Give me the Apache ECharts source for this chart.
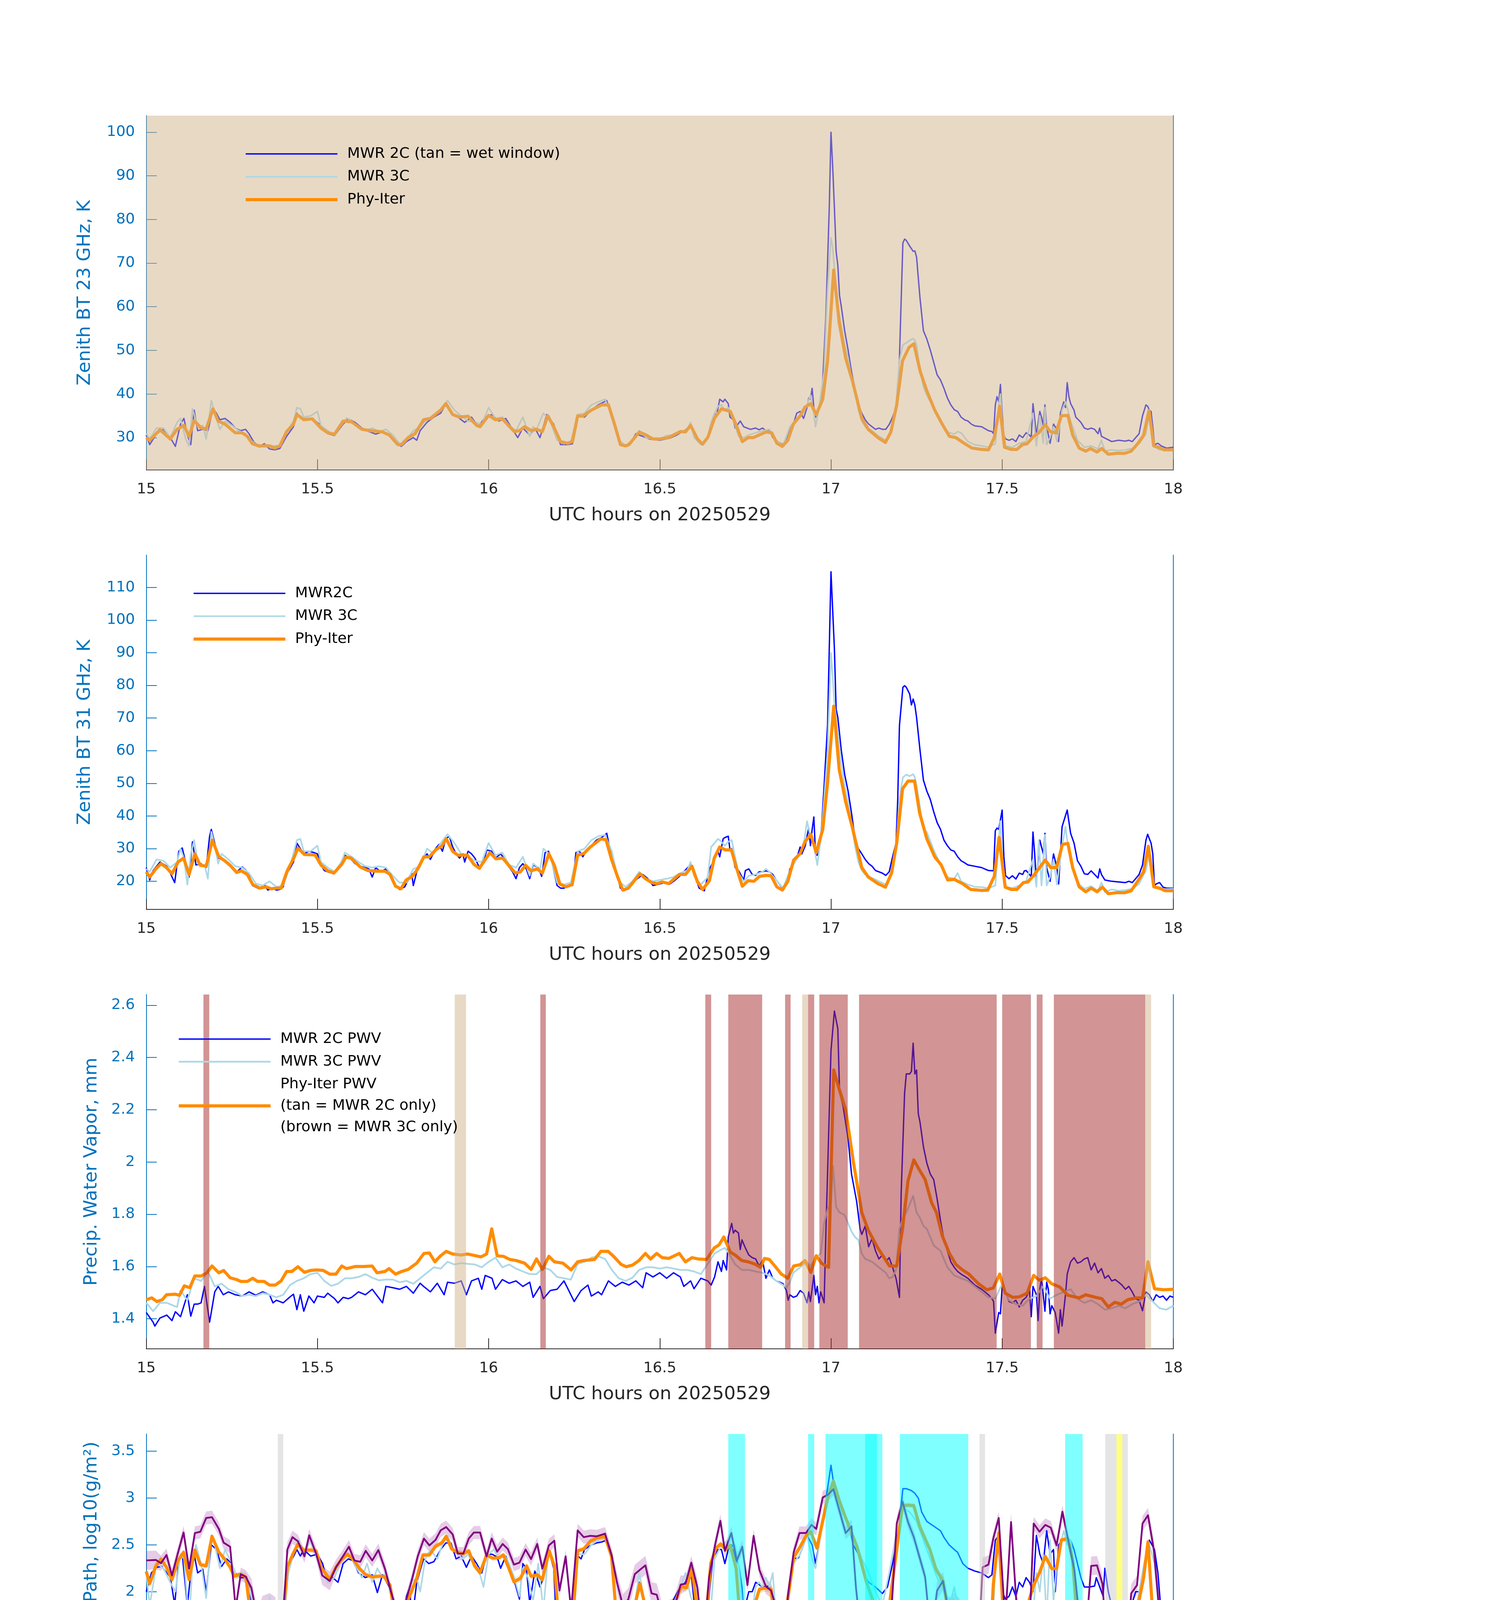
<!DOCTYPE html>
<html>
<head>
<meta charset="utf-8">
<script src="https://cdn.jsdelivr.net/npm/echarts@6/dist/echarts.min.js"></script>
<style>html,body{margin:0;padding:0;background:#fff}#c{width:3825px;height:6000px}</style>
</head>
<body>
<div id="c"></div>
<script>
// ---------------- DATA ----------------
// Panel 1: Zenith BT 23 GHz (K)  [UTC hour, value]
const bt23C2 = [[15.0,30.6],[15.01,28.4],[15.03,30.9],[15.05,31.9],[15.07,30],[15.085,28],[15.1,33.1],[15.11,34.4],[15.12,30.6],[15.13,28.4],[15.14,36.3],[15.15,31.6],[15.165,31.9],[15.18,31.6],[15.195,36.6],[15.205,35.6],[15.215,34.1],[15.23,34.4],[15.245,33.5],[15.26,32.2],[15.275,31.6],[15.29,31.9],[15.3,30.9],[15.315,28.9],[15.33,28],[15.345,28.6],[15.36,27.4],[15.375,27.2],[15.39,27.5],[15.41,30.3],[15.43,32.5],[15.44,35.6],[15.455,34.3],[15.47,34.4],[15.49,34.1],[15.51,32.8],[15.53,30.9],[15.55,30.5],[15.575,33.1],[15.59,34.3],[15.61,33.5],[15.63,32.2],[15.65,31.4],[15.67,30.8],[15.69,31.3],[15.71,30.5],[15.73,28.6],[15.745,28],[15.76,29.1],[15.78,30],[15.79,29.4],[15.8,31.6],[15.82,33.5],[15.84,34.7],[15.86,35.6],[15.875,37.7],[15.89,35.6],[15.91,34.7],[15.93,33.5],[15.95,34.7],[15.97,32.5],[15.99,34.7],[16.01,35.3],[16.03,33.8],[16.05,34.4],[16.07,31.9],[16.085,30],[16.1,32.2],[16.12,30.6],[16.135,32.2],[16.15,30],[16.17,35.3],[16.19,33.1],[16.21,28.4],[16.23,28.4],[16.245,28.6],[16.26,35],[16.28,34.7],[16.3,36.3],[16.32,37.5],[16.345,38.5],[16.36,34.4],[16.38,29.4],[16.395,28.1],[16.41,28.2],[16.43,30.9],[16.45,30.3],[16.47,29.7],[16.5,29.4],[16.53,29.9],[16.55,30.6],[16.57,31.6],[16.59,32.5],[16.61,29.7],[16.625,28.4],[16.64,30],[16.65,33.5],[16.66,35.6],[16.665,34.7],[16.675,38.8],[16.685,38.2],[16.69,38.8],[16.7,37.8],[16.705,34.7],[16.715,34.1],[16.72,32.2],[16.735,33.8],[16.745,32.5],[16.755,32.2],[16.765,31.9],[16.78,32.2],[16.79,31.8],[16.8,32.2],[16.81,31.6],[16.82,31.8],[16.83,30],[16.845,29.1],[16.86,28.4],[16.87,29.7],[16.88,32.2],[16.89,33.1],[16.9,35.6],[16.91,36],[16.92,34.4],[16.93,36.9],[16.935,39.1],[16.94,38.8],[16.945,41.3],[16.95,36.9],[16.955,34.7],[16.965,36.6],[16.975,41.6],[16.985,57.6],[16.995,82.7],[17.0,100],[17.005,92.1],[17.01,82.7],[17.015,72.7],[17.02,69.5],[17.025,62.6],[17.03,60.1],[17.04,54.5],[17.05,50.1],[17.06,45.1],[17.07,41.3],[17.08,37.5],[17.09,35.6],[17.1,34.1],[17.11,33.1],[17.12,32.5],[17.13,31.9],[17.14,32.2],[17.15,31.9],[17.16,31.9],[17.17,33],[17.18,34.7],[17.19,36.9],[17.195,38.8],[17.2,48.2],[17.21,74.6],[17.215,75.5],[17.22,75.2],[17.23,73.9],[17.24,72.7],[17.245,72.8],[17.25,71.4],[17.26,62],[17.27,54.5],[17.28,52.6],[17.29,50.1],[17.3,47.3],[17.31,44.4],[17.32,43.2],[17.33,41.3],[17.34,39.1],[17.35,37.5],[17.36,36.4],[17.37,36],[17.38,34.7],[17.39,34.1],[17.4,33.8],[17.41,33.1],[17.42,32.7],[17.44,32.5],[17.46,31.6],[17.47,31.4],[17.475,30.9],[17.48,37.5],[17.485,39.4],[17.49,38.2],[17.495,42.2],[17.5,35.6],[17.505,30.6],[17.51,29.7],[17.52,29.4],[17.53,29.7],[17.54,29.1],[17.55,30.6],[17.56,30],[17.57,31.1],[17.58,30.6],[17.585,30],[17.59,37.8],[17.595,34.4],[17.6,30.6],[17.61,36],[17.615,34.7],[17.62,32.8],[17.625,37.5],[17.63,32.5],[17.64,28.7],[17.65,33.1],[17.66,31.9],[17.665,29.1],[17.67,35.6],[17.68,38.2],[17.685,36.9],[17.69,42.6],[17.695,39.4],[17.7,37.8],[17.71,36.3],[17.715,34.7],[17.73,33.5],[17.74,32.2],[17.75,31.9],[17.76,32.2],[17.77,31.9],[17.78,30.9],[17.785,32.2],[17.79,30.3],[17.8,29.9],[17.81,29.5],[17.82,29.1],[17.84,29.4],[17.86,29.2],[17.87,29.4],[17.88,29.1],[17.89,30],[17.9,30.9],[17.91,35],[17.92,37.5],[17.925,37.2],[17.93,36.3],[17.935,36],[17.94,32.5],[17.945,28.4],[17.955,28.7],[17.965,28.1],[17.98,27.6],[18.0,27.8]];
const bt23C3 = [[15.0,30.9],[15.01,29.7],[15.03,32.2],[15.05,32.2],[15.07,30],[15.09,33.5],[15.1,34.4],[15.115,29.7],[15.125,28.1],[15.135,36.6],[15.15,32.5],[15.165,32.8],[15.175,29.7],[15.19,38.5],[15.2,35.6],[15.215,31.9],[15.23,33.8],[15.25,32.8],[15.27,31.6],[15.29,30.9],[15.31,29.1],[15.33,27.8],[15.35,28.4],[15.37,28.1],[15.39,28.2],[15.41,31.3],[15.43,33.8],[15.44,36.9],[15.45,36.6],[15.46,34.7],[15.48,35],[15.5,36],[15.51,32.8],[15.53,31.6],[15.55,30.6],[15.57,32.8],[15.585,34.5],[15.6,33.8],[15.62,32.2],[15.64,31.6],[15.66,32.2],[15.68,31.4],[15.7,31.9],[15.72,30.6],[15.74,28.6],[15.755,28.9],[15.77,30.6],[15.78,31.6],[15.8,32.5],[15.82,34.1],[15.84,35],[15.86,36.6],[15.88,38.5],[15.9,36.3],[15.92,35],[15.94,33.8],[15.96,33.5],[15.98,33.1],[16.0,36.9],[16.02,34.4],[16.04,34.7],[16.06,32.8],[16.08,31.6],[16.1,34.7],[16.12,30.3],[16.13,32.5],[16.14,31.9],[16.16,35.6],[16.18,33.8],[16.2,29.4],[16.22,28.6],[16.24,29.1],[16.26,35.3],[16.28,35.6],[16.3,37.5],[16.32,38.2],[16.34,38.8],[16.36,35],[16.38,29.4],[16.4,28.2],[16.42,29.4],[16.44,31.6],[16.46,30],[16.48,29.7],[16.5,29.7],[16.52,30.5],[16.54,30.6],[16.56,31.3],[16.58,31.9],[16.59,33.5],[16.6,30],[16.62,28.4],[16.64,30.3],[16.65,33.5],[16.66,35.6],[16.67,37.2],[16.68,37.5],[16.69,36.3],[16.7,36.9],[16.71,35.3],[16.72,32.8],[16.73,30.3],[16.745,30],[16.76,30.6],[16.78,31.1],[16.8,31.6],[16.82,31.9],[16.84,29.4],[16.86,28.2],[16.88,32.5],[16.9,34.4],[16.92,35.6],[16.93,37.5],[16.94,39.7],[16.95,35.6],[16.955,32.5],[16.965,36.9],[16.98,45.1],[16.99,63.9],[17.0,75.8],[17.005,73.6],[17.01,68.9],[17.02,60.1],[17.03,55.7],[17.04,51.3],[17.05,48.2],[17.06,43.8],[17.07,40.7],[17.08,36.3],[17.09,33.8],[17.1,32.5],[17.12,31.6],[17.14,30.3],[17.16,29.4],[17.17,30.3],[17.18,33.1],[17.19,37.5],[17.2,47.6],[17.21,51.3],[17.22,51.7],[17.23,52.3],[17.24,52.7],[17.245,52.3],[17.25,51.3],[17.26,45.7],[17.27,41.6],[17.28,39.7],[17.3,36.9],[17.32,34.1],[17.34,31.3],[17.36,30.8],[17.37,31.4],[17.38,31.1],[17.4,29.1],[17.42,28.4],[17.44,28.1],[17.46,27.8],[17.48,28.6],[17.49,37.5],[17.495,40],[17.5,34.1],[17.51,28.1],[17.53,27.8],[17.55,28.7],[17.57,29.1],[17.59,35.6],[17.6,28.1],[17.61,35],[17.62,28.7],[17.625,36.9],[17.63,28.4],[17.64,30],[17.65,32.5],[17.66,29.1],[17.675,36.3],[17.685,38.2],[17.69,36.9],[17.7,33.8],[17.72,29.4],[17.74,27.8],[17.76,28.1],[17.78,27.4],[17.79,29.4],[17.8,26.9],[17.82,27.2],[17.84,27],[17.86,27.2],[17.88,27.5],[17.9,28.6],[17.92,30.9],[17.93,35.6],[17.94,28.1],[17.96,27.2],[18.0,27.2]];
const bt23Phy = [[15.0,30],[15.01,29.4],[15.04,31.8],[15.07,29.7],[15.09,31.9],[15.11,32.8],[15.125,30.3],[15.14,33.9],[15.16,32.2],[15.175,32],[15.195,36.6],[15.21,33.8],[15.23,33.1],[15.26,31.1],[15.28,31.1],[15.295,30.3],[15.31,28.6],[15.33,28.1],[15.36,28.1],[15.375,27.6],[15.39,28.1],[15.41,31.4],[15.43,33.1],[15.44,35.3],[15.46,34.1],[15.485,34.3],[15.51,32.2],[15.53,31.1],[15.55,30.8],[15.575,33.8],[15.6,33.6],[15.63,31.9],[15.655,31.6],[15.69,31.3],[15.71,30.6],[15.735,28.4],[15.745,28.4],[15.765,30],[15.785,30.9],[15.81,34.1],[15.83,34.4],[15.86,36.3],[15.875,37.8],[15.895,35.3],[15.915,34.7],[15.94,34.9],[15.965,32.8],[15.975,32.5],[16.0,35.1],[16.02,34.1],[16.04,34.3],[16.075,31.4],[16.09,31.6],[16.105,32.5],[16.125,31.6],[16.14,31.9],[16.157,31.4],[16.173,35],[16.19,32.5],[16.21,29.1],[16.23,28.7],[16.245,29.1],[16.26,35],[16.275,34.9],[16.3,36.3],[16.33,37.5],[16.35,37.5],[16.365,33.8],[16.385,28.4],[16.4,28.1],[16.41,28.4],[16.44,31.3],[16.46,30.6],[16.48,29.7],[16.5,29.7],[16.525,30],[16.56,31.4],[16.575,31.3],[16.59,32.8],[16.61,29.7],[16.625,28.5],[16.64,30],[16.66,34.5],[16.68,36.6],[16.706,36],[16.725,32.5],[16.741,29.1],[16.758,30],[16.773,30],[16.79,30.6],[16.81,31.3],[16.827,31.1],[16.842,28.7],[16.858,28],[16.874,29.4],[16.89,33.1],[16.91,35],[16.924,37],[16.941,37.8],[16.957,35.3],[16.976,38.8],[16.99,47.6],[17.008,68.4],[17.024,56.4],[17.043,48.2],[17.062,43.2],[17.09,34.4],[17.109,31.9],[17.137,30],[17.159,28.9],[17.175,31.3],[17.192,37.5],[17.209,47.6],[17.228,50.7],[17.242,51.5],[17.261,45.1],[17.28,40.7],[17.303,36.3],[17.327,32.8],[17.346,30.3],[17.365,30],[17.389,28.7],[17.412,27.6],[17.44,27.3],[17.46,27.2],[17.477,30],[17.493,37.2],[17.507,27.8],[17.526,27.3],[17.543,27.3],[17.559,28.4],[17.573,28.6],[17.592,30.3],[17.607,31.1],[17.626,33],[17.64,31.4],[17.657,31.1],[17.673,35],[17.692,35.1],[17.706,30.6],[17.725,27.6],[17.744,26.9],[17.758,27.5],[17.777,26.7],[17.791,27.5],[17.81,26.2],[17.834,26.4],[17.858,26.4],[17.877,26.9],[17.896,28.6],[17.913,30.5],[17.929,36.2],[17.943,28.1],[17.957,27.8],[17.973,27.2],[18.0,27.2]];

// Panel 2: Zenith BT 31 GHz (K)
const bt31C2 = [[15.0,24.2],[15.01,20.4],[15.02,23.3],[15.04,25.9],[15.06,24.6],[15.07,22.5],[15.083,19.6],[15.095,29.2],[15.105,30.2],[15.115,25.9],[15.125,21.3],[15.135,32.1],[15.145,25],[15.16,25.4],[15.175,24.2],[15.185,33.8],[15.19,35.9],[15.2,31.7],[15.21,27.1],[15.225,26.5],[15.24,25],[15.25,24.2],[15.265,22.9],[15.28,24.4],[15.29,23.5],[15.3,22.1],[15.31,18.7],[15.33,17.7],[15.345,19],[15.355,17.3],[15.37,17.9],[15.38,17.3],[15.39,17.5],[15.4,18.3],[15.41,22.1],[15.43,25.9],[15.44,31.7],[15.45,30],[15.46,28.4],[15.475,29.2],[15.49,28.8],[15.5,28.4],[15.51,25],[15.52,23.3],[15.535,22.7],[15.55,22.9],[15.565,25],[15.58,28],[15.595,27.1],[15.61,25.4],[15.625,24.6],[15.64,24.2],[15.65,23.8],[15.66,21.3],[15.67,24.2],[15.685,22.9],[15.7,23.8],[15.71,22.5],[15.725,19.2],[15.74,17.5],[15.755,18.3],[15.765,20.4],[15.775,22.5],[15.78,18.7],[15.79,22.9],[15.8,25],[15.81,27.1],[15.82,28.4],[15.83,26.7],[15.845,30],[15.855,31.3],[15.865,29.2],[15.875,33],[15.885,33.8],[15.895,30.5],[15.905,28.4],[15.915,27.1],[15.925,28.4],[15.93,25.9],[15.94,29.2],[15.95,28.4],[15.96,27.1],[15.975,23.8],[15.985,26.3],[15.995,29.6],[16.01,29.2],[16.02,27.1],[16.035,28.4],[16.045,27.1],[16.055,25],[16.07,22.9],[16.08,20.8],[16.09,24.2],[16.1,25.4],[16.11,23.8],[16.12,20.8],[16.13,25],[16.145,24.2],[16.155,21.5],[16.165,28.8],[16.175,29.2],[16.185,25.9],[16.2,18.7],[16.21,17.9],[16.22,17.9],[16.235,18.7],[16.245,18.7],[16.255,28.8],[16.265,29.2],[16.275,27.5],[16.29,30],[16.3,30.9],[16.315,32.6],[16.33,33.4],[16.345,34.7],[16.36,27.1],[16.375,22.1],[16.385,17.9],[16.395,17.1],[16.41,17.9],[16.42,19.6],[16.435,20.8],[16.45,22.1],[16.465,20.8],[16.48,18.7],[16.5,19.2],[16.515,19.6],[16.53,19.2],[16.545,20.4],[16.555,21.3],[16.57,22.9],[16.585,24.6],[16.59,25.4],[16.605,20.8],[16.615,17.9],[16.63,17.1],[16.645,23.8],[16.66,26.7],[16.67,29.2],[16.675,27.5],[16.685,33],[16.69,33.4],[16.7,33.8],[16.705,29.6],[16.71,30],[16.72,24.2],[16.73,23.3],[16.745,20.4],[16.75,23.3],[16.76,23.8],[16.77,22.1],[16.78,21.8],[16.79,22.9],[16.8,22.9],[16.81,23.2],[16.82,22.9],[16.83,22.1],[16.84,20.4],[16.86,17.7],[16.87,19.2],[16.88,23.8],[16.89,25.4],[16.9,27.1],[16.91,30.5],[16.915,28.4],[16.925,30.9],[16.93,33.8],[16.935,36.3],[16.94,30.9],[16.945,35.9],[16.95,39.7],[16.955,28],[16.96,28],[16.97,32.6],[16.98,49.3],[16.99,67.7],[17.0,114.8],[17.01,91.2],[17.015,72.7],[17.02,70.2],[17.03,60.2],[17.04,52.7],[17.05,47.6],[17.06,40.9],[17.07,33.4],[17.08,30],[17.09,28.4],[17.1,26.7],[17.11,25.4],[17.12,24.6],[17.13,23.3],[17.14,22.9],[17.15,22.5],[17.16,21.8],[17.17,22.9],[17.18,27.5],[17.19,31.7],[17.195,45.1],[17.2,67.7],[17.21,79.4],[17.215,79.9],[17.22,79.4],[17.23,77.3],[17.235,74],[17.24,75.8],[17.245,74],[17.25,70.2],[17.26,60.2],[17.27,51],[17.28,47.6],[17.29,45.1],[17.3,41.3],[17.31,38],[17.32,35.9],[17.33,32.6],[17.34,30.9],[17.35,29.6],[17.36,29.2],[17.37,27.5],[17.38,26.3],[17.39,25.7],[17.4,25],[17.42,24.6],[17.44,24.2],[17.46,23.3],[17.475,23.2],[17.48,35.5],[17.485,36.3],[17.49,35.9],[17.5,41.8],[17.505,27.5],[17.51,21.7],[17.52,20.8],[17.53,21.7],[17.54,20.7],[17.55,22.5],[17.56,22.1],[17.565,23.2],[17.57,23.3],[17.58,22.1],[17.585,21.3],[17.59,35.1],[17.595,28.4],[17.6,20],[17.61,32.6],[17.62,28.4],[17.625,34.7],[17.63,24.2],[17.64,20],[17.65,28.4],[17.66,24.2],[17.665,19.2],[17.675,36.7],[17.685,40.1],[17.69,41.8],[17.7,34.7],[17.71,31.7],[17.72,26.3],[17.73,24.6],[17.74,22.3],[17.75,22.1],[17.76,23.2],[17.77,22.1],[17.78,21],[17.785,23.8],[17.79,22.1],[17.8,20.4],[17.81,20.2],[17.82,20],[17.84,19.8],[17.86,19.6],[17.87,20],[17.88,19.6],[17.89,20.8],[17.9,22.1],[17.91,25],[17.92,32.6],[17.925,34.4],[17.93,33],[17.935,31.7],[17.94,28.4],[17.945,18.7],[17.95,19.2],[17.96,19.6],[17.97,18.2],[17.98,17.9],[18.0,17.9]];
const bt31C3 = [[15.0,23.8],[15.01,22.9],[15.03,26.7],[15.05,26.3],[15.07,24.2],[15.09,25.9],[15.1,30],[15.11,27.1],[15.12,19],[15.13,28.4],[15.14,32.6],[15.15,25.4],[15.17,25],[15.18,20.8],[15.19,35.1],[15.2,30.9],[15.21,25.4],[15.22,28.4],[15.24,26.7],[15.26,24.6],[15.28,24.2],[15.3,22.5],[15.32,19.3],[15.34,18.7],[15.36,20],[15.38,18.3],[15.4,18.7],[15.42,24.6],[15.44,32.6],[15.45,33],[15.46,29.2],[15.48,29.2],[15.5,30.9],[15.51,25.9],[15.53,24.2],[15.55,22.9],[15.57,25.9],[15.58,28.8],[15.6,27.5],[15.62,25.9],[15.64,24.6],[15.66,24.2],[15.68,24.6],[15.7,24.2],[15.72,21.7],[15.74,19.6],[15.76,19.6],[15.77,21.7],[15.78,23.8],[15.8,24.6],[15.82,30],[15.84,28.4],[15.86,31.7],[15.88,34.4],[15.9,31.7],[15.92,28.4],[15.94,27.5],[15.96,26.3],[15.98,25.9],[16.0,31.7],[16.02,28],[16.04,28.8],[16.06,25],[16.08,24.2],[16.1,27.5],[16.12,21.7],[16.13,25.4],[16.14,24.6],[16.15,23.3],[16.16,30],[16.18,28],[16.2,19.6],[16.22,19],[16.24,19.6],[16.26,29.2],[16.28,30],[16.3,32.6],[16.32,33.8],[16.34,34.2],[16.36,29.2],[16.38,20],[16.4,18.3],[16.42,20],[16.44,22.9],[16.46,20.8],[16.48,20],[16.5,20.4],[16.52,20.8],[16.54,21.3],[16.56,22.5],[16.58,23.3],[16.59,25.9],[16.6,21.7],[16.62,19],[16.64,21.3],[16.65,30.5],[16.66,31.7],[16.67,33],[16.68,32.1],[16.69,30.9],[16.7,32.1],[16.71,32.6],[16.72,27.5],[16.73,22.5],[16.745,20],[16.76,21.7],[16.78,22.1],[16.8,22.9],[16.81,23.8],[16.82,22.9],[16.84,20.4],[16.86,17.9],[16.88,23.3],[16.9,26.7],[16.92,30.9],[16.93,38.4],[16.94,33.8],[16.95,30.9],[16.96,25],[16.97,32.6],[16.98,45.1],[16.99,59.4],[17.0,89.9],[17.005,82.8],[17.01,74.4],[17.02,66],[17.03,56],[17.04,49.3],[17.05,44.3],[17.06,37.6],[17.07,30.9],[17.08,25.9],[17.09,23.3],[17.1,22.1],[17.12,21],[17.14,20],[17.16,19],[17.17,20.8],[17.18,24.2],[17.19,30],[17.2,45.1],[17.21,51.8],[17.22,52.7],[17.23,52.2],[17.24,52.8],[17.245,51.8],[17.25,49.3],[17.26,42.6],[17.27,35.9],[17.28,35.1],[17.3,29.6],[17.32,25],[17.34,21.3],[17.36,20.8],[17.37,22.5],[17.38,20],[17.4,19],[17.42,18.3],[17.44,18.2],[17.46,17.9],[17.48,18.7],[17.49,32.6],[17.495,38.4],[17.5,28.4],[17.51,18.3],[17.53,17.9],[17.55,18.7],[17.57,20],[17.59,26.7],[17.6,18.3],[17.607,32.6],[17.615,18.7],[17.625,34.2],[17.63,18.7],[17.64,21.3],[17.65,26.7],[17.66,19],[17.675,30.9],[17.685,36.7],[17.69,32.6],[17.7,25.9],[17.72,19.6],[17.74,17.7],[17.76,18.5],[17.78,17.1],[17.79,19.6],[17.8,16.7],[17.82,17.5],[17.84,17.1],[17.86,17.3],[17.88,17.7],[17.9,19.2],[17.92,23.3],[17.93,29.2],[17.94,18.7],[17.96,17.5],[18.0,17.7]];
const bt31Phy = [[15.0,22.9],[15.01,21.3],[15.028,23.8],[15.043,25.4],[15.059,24.2],[15.075,22.3],[15.093,25.9],[15.109,27.1],[15.125,22.1],[15.142,28.4],[15.158,24.9],[15.175,24.6],[15.193,32.6],[15.212,27.5],[15.229,26.3],[15.245,24.9],[15.264,22.7],[15.278,23.2],[15.295,22.1],[15.311,19],[15.332,17.9],[15.35,18.3],[15.365,17.7],[15.381,17.9],[15.394,17.9],[15.412,23.3],[15.431,27.1],[15.443,30.2],[15.462,28.2],[15.493,28.1],[15.511,24.9],[15.53,23.2],[15.548,22.5],[15.571,25.2],[15.583,27.4],[15.598,27.1],[15.625,24.4],[15.647,23.3],[15.672,23.1],[15.697,23.1],[15.712,22.1],[15.728,18.5],[15.744,17.7],[15.759,20.4],[15.777,21.5],[15.793,23.8],[15.811,27.5],[15.827,27.5],[15.845,29.6],[15.864,30.9],[15.876,33],[15.895,29.2],[15.91,28],[15.938,28],[15.957,25.2],[15.973,24],[16.004,28.8],[16.021,26.9],[16.041,27.1],[16.058,25],[16.078,22.5],[16.093,22.9],[16.108,24.9],[16.124,23.2],[16.142,23.8],[16.157,22.5],[16.176,28.4],[16.192,24.9],[16.208,19.2],[16.226,18.3],[16.244,19],[16.26,28],[16.278,28.5],[16.297,30.5],[16.328,33],[16.343,32.7],[16.359,26.7],[16.377,21.3],[16.392,17.3],[16.408,17.9],[16.442,22.3],[16.458,20.8],[16.476,19.6],[16.491,19.3],[16.507,19.8],[16.526,19.3],[16.557,22.1],[16.575,22.1],[16.594,24.6],[16.61,19.8],[16.625,17.5],[16.645,20.2],[16.659,27.1],[16.675,30.5],[16.692,29.6],[16.709,29.6],[16.725,23.8],[16.741,18.5],[16.758,20.2],[16.775,20],[16.791,21.5],[16.81,21.8],[16.825,21.7],[16.842,18.3],[16.858,17.3],[16.874,20],[16.891,26.5],[16.91,28.5],[16.924,32.1],[16.941,34.4],[16.957,28.8],[16.976,35.9],[16.99,50.1],[17.008,73.6],[17.024,54.3],[17.043,44.3],[17.062,36.7],[17.09,24.2],[17.109,21.3],[17.137,19.3],[17.159,18.2],[17.177,22.5],[17.192,31.7],[17.209,48.3],[17.225,50.7],[17.244,50.7],[17.259,40.9],[17.28,33],[17.303,27.5],[17.322,25],[17.341,20.4],[17.36,20.6],[17.384,19.3],[17.408,17.5],[17.441,17.2],[17.458,17.3],[17.477,21.5],[17.491,33.4],[17.509,18.2],[17.526,17.5],[17.543,17.5],[17.562,19.6],[17.575,19.8],[17.592,21.8],[17.626,26.5],[17.642,24.2],[17.659,24.2],[17.676,31.3],[17.692,31.6],[17.706,24.2],[17.725,18.3],[17.744,16.8],[17.76,17.9],[17.777,16.8],[17.793,18.2],[17.81,16.2],[17.834,16.5],[17.858,16.5],[17.877,17.1],[17.896,20],[17.913,22.9],[17.927,30.7],[17.943,18.3],[17.96,17.9],[17.976,17.1],[18.0,17.1]];

// Panel 3: Precipitable water vapor (mm)
const pwvC2 = [[15.0,1.424],[15.02,1.387],[15.025,1.372],[15.04,1.403],[15.06,1.414],[15.075,1.393],[15.085,1.427],[15.1,1.408],[15.12,1.492],[15.13,1.41],[15.14,1.456],[15.15,1.456],[15.16,1.461],[15.17,1.524],[15.185,1.387],[15.2,1.503],[15.21,1.524],[15.225,1.492],[15.24,1.503],[15.26,1.492],[15.28,1.487],[15.3,1.503],[15.32,1.49],[15.34,1.503],[15.36,1.492],[15.37,1.461],[15.38,1.471],[15.4,1.461],[15.42,1.484],[15.43,1.494],[15.44,1.435],[15.45,1.492],[15.46,1.429],[15.475,1.487],[15.49,1.461],[15.5,1.487],[15.52,1.482],[15.53,1.498],[15.55,1.477],[15.56,1.461],[15.575,1.482],[15.59,1.477],[15.6,1.482],[15.62,1.503],[15.64,1.492],[15.66,1.513],[15.675,1.487],[15.69,1.461],[15.7,1.524],[15.72,1.519],[15.74,1.513],[15.76,1.524],[15.78,1.498],[15.8,1.536],[15.81,1.524],[15.83,1.503],[15.85,1.536],[15.87,1.492],[15.88,1.54],[15.9,1.536],[15.92,1.545],[15.935,1.492],[15.95,1.545],[15.97,1.555],[15.98,1.513],[15.99,1.566],[16.01,1.555],[16.02,1.513],[16.04,1.55],[16.06,1.536],[16.08,1.545],[16.1,1.524],[16.12,1.54],[16.13,1.482],[16.15,1.524],[16.16,1.477],[16.18,1.508],[16.2,1.513],[16.22,1.545],[16.23,1.519],[16.25,1.466],[16.27,1.508],[16.29,1.529],[16.3,1.487],[16.32,1.503],[16.33,1.492],[16.35,1.545],[16.37,1.524],[16.39,1.54],[16.41,1.529],[16.43,1.545],[16.45,1.519],[16.46,1.576],[16.48,1.56],[16.5,1.576],[16.52,1.555],[16.54,1.576],[16.56,1.56],[16.57,1.524],[16.59,1.545],[16.6,1.515],[16.62,1.555],[16.64,1.545],[16.65,1.529],[16.66,1.56],[16.67,1.618],[16.68,1.581],[16.685,1.623],[16.695,1.587],[16.7,1.713],[16.71,1.765],[16.715,1.728],[16.72,1.739],[16.73,1.728],[16.735,1.665],[16.74,1.702],[16.75,1.671],[16.76,1.644],[16.77,1.634],[16.78,1.629],[16.79,1.602],[16.8,1.623],[16.81,1.555],[16.82,1.587],[16.83,1.555],[16.84,1.545],[16.85,1.54],[16.86,1.534],[16.87,1.508],[16.875,1.471],[16.88,1.492],[16.89,1.482],[16.9,1.487],[16.91,1.508],[16.92,1.498],[16.93,1.461],[16.935,1.503],[16.94,1.466],[16.95,1.566],[16.955,1.492],[16.96,1.524],[16.965,1.461],[16.97,1.503],[16.98,1.461],[16.985,1.723],[17.0,2.426],[17.01,2.578],[17.02,2.51],[17.025,2.269],[17.035,2.216],[17.05,2.09],[17.06,1.954],[17.075,1.849],[17.085,1.744],[17.09,1.723],[17.1,1.755],[17.11,1.676],[17.12,1.707],[17.13,1.66],[17.14,1.629],[17.15,1.644],[17.16,1.618],[17.17,1.634],[17.18,1.597],[17.19,1.555],[17.2,1.482],[17.205,1.88],[17.215,2.263],[17.22,2.337],[17.23,2.337],[17.235,2.347],[17.24,2.455],[17.245,2.337],[17.25,2.352],[17.255,2.185],[17.26,2.153],[17.27,2.059],[17.28,1.996],[17.29,1.954],[17.3,1.933],[17.31,1.859],[17.32,1.776],[17.33,1.702],[17.34,1.66],[17.35,1.618],[17.36,1.597],[17.37,1.581],[17.38,1.571],[17.4,1.555],[17.42,1.529],[17.44,1.513],[17.46,1.492],[17.47,1.477],[17.475,1.466],[17.48,1.345],[17.49,1.424],[17.495,1.419],[17.5,1.524],[17.51,1.503],[17.52,1.466],[17.53,1.461],[17.54,1.471],[17.55,1.445],[17.56,1.471],[17.57,1.482],[17.58,1.508],[17.585,1.408],[17.59,1.524],[17.6,1.492],[17.605,1.393],[17.61,1.513],[17.615,1.555],[17.625,1.429],[17.63,1.54],[17.635,1.513],[17.64,1.419],[17.645,1.45],[17.655,1.424],[17.665,1.345],[17.67,1.435],[17.675,1.372],[17.685,1.492],[17.69,1.571],[17.7,1.618],[17.71,1.634],[17.72,1.613],[17.73,1.618],[17.74,1.629],[17.75,1.634],[17.76,1.587],[17.77,1.613],[17.78,1.576],[17.79,1.592],[17.8,1.555],[17.81,1.566],[17.82,1.545],[17.83,1.55],[17.84,1.54],[17.85,1.529],[17.86,1.513],[17.87,1.524],[17.88,1.503],[17.89,1.477],[17.9,1.471],[17.91,1.431],[17.92,1.503],[17.93,1.492],[17.94,1.466],[17.95,1.492],[17.96,1.482],[17.97,1.487],[17.98,1.471],[17.99,1.487],[18.0,1.482]];
const pwvC3 = [[15.0,1.461],[15.02,1.429],[15.04,1.461],[15.06,1.461],[15.08,1.45],[15.09,1.445],[15.1,1.508],[15.12,1.471],[15.14,1.555],[15.16,1.545],[15.18,1.581],[15.2,1.524],[15.22,1.534],[15.24,1.513],[15.26,1.503],[15.28,1.487],[15.3,1.492],[15.32,1.487],[15.34,1.498],[15.36,1.492],[15.38,1.482],[15.4,1.492],[15.42,1.529],[15.44,1.545],[15.46,1.555],[15.48,1.571],[15.5,1.576],[15.52,1.545],[15.54,1.526],[15.56,1.534],[15.58,1.555],[15.6,1.555],[15.62,1.56],[15.64,1.571],[15.66,1.557],[15.68,1.547],[15.7,1.55],[15.72,1.55],[15.74,1.54],[15.76,1.545],[15.78,1.534],[15.8,1.555],[15.82,1.576],[15.84,1.597],[15.86,1.592],[15.88,1.618],[15.9,1.608],[15.92,1.613],[15.94,1.61],[15.96,1.608],[15.98,1.597],[16.0,1.618],[16.02,1.634],[16.04,1.597],[16.06,1.608],[16.08,1.592],[16.1,1.581],[16.12,1.571],[16.14,1.571],[16.16,1.597],[16.18,1.587],[16.2,1.56],[16.22,1.555],[16.24,1.55],[16.26,1.61],[16.28,1.618],[16.3,1.634],[16.32,1.639],[16.34,1.629],[16.36,1.587],[16.38,1.555],[16.4,1.545],[16.42,1.557],[16.44,1.587],[16.46,1.597],[16.48,1.597],[16.5,1.592],[16.52,1.597],[16.54,1.592],[16.56,1.587],[16.58,1.587],[16.6,1.581],[16.62,1.571],[16.64,1.61],[16.66,1.65],[16.68,1.665],[16.69,1.671],[16.7,1.655],[16.72,1.608],[16.74,1.587],[16.76,1.587],[16.78,1.581],[16.8,1.576],[16.82,1.566],[16.84,1.545],[16.86,1.529],[16.87,1.519],[16.88,1.54],[16.89,1.576],[16.91,1.597],[16.93,1.618],[16.94,1.602],[16.96,1.639],[16.97,1.65],[16.98,1.765],[16.99,1.818],[17.0,1.849],[17.006,1.985],[17.015,1.828],[17.025,1.807],[17.04,1.797],[17.05,1.765],[17.06,1.734],[17.07,1.713],[17.08,1.702],[17.09,1.65],[17.1,1.629],[17.12,1.618],[17.14,1.597],[17.16,1.576],[17.17,1.555],[17.18,1.56],[17.19,1.587],[17.2,1.744],[17.21,1.786],[17.22,1.807],[17.23,1.838],[17.24,1.87],[17.25,1.807],[17.26,1.786],[17.27,1.755],[17.28,1.744],[17.3,1.681],[17.32,1.66],[17.34,1.597],[17.36,1.566],[17.38,1.555],[17.4,1.545],[17.42,1.524],[17.44,1.503],[17.46,1.482],[17.48,1.477],[17.5,1.534],[17.52,1.471],[17.54,1.456],[17.56,1.45],[17.58,1.477],[17.6,1.487],[17.62,1.524],[17.64,1.477],[17.66,1.492],[17.68,1.503],[17.7,1.513],[17.72,1.477],[17.74,1.461],[17.76,1.471],[17.78,1.456],[17.8,1.435],[17.82,1.44],[17.84,1.45],[17.86,1.44],[17.88,1.456],[17.9,1.466],[17.92,1.492],[17.94,1.466],[17.96,1.44],[17.98,1.435],[18.0,1.45]];
const pwvPhy = [[15.0,1.473],[15.016,1.48],[15.031,1.466],[15.047,1.473],[15.059,1.492],[15.084,1.494],[15.097,1.49],[15.111,1.526],[15.127,1.519],[15.142,1.564],[15.161,1.564],[15.177,1.576],[15.192,1.602],[15.212,1.576],[15.226,1.585],[15.245,1.557],[15.264,1.55],[15.276,1.543],[15.295,1.543],[15.311,1.555],[15.325,1.543],[15.344,1.543],[15.36,1.529],[15.377,1.529],[15.394,1.545],[15.41,1.581],[15.425,1.581],[15.443,1.599],[15.462,1.578],[15.48,1.585],[15.499,1.587],[15.517,1.585],[15.536,1.571],[15.554,1.571],[15.571,1.602],[15.585,1.592],[15.61,1.6],[15.635,1.6],[15.66,1.602],[15.674,1.576],[15.697,1.581],[15.709,1.592],[15.728,1.571],[15.746,1.581],[15.765,1.589],[15.79,1.613],[15.811,1.65],[15.827,1.652],[15.843,1.618],[15.858,1.639],[15.876,1.658],[15.895,1.648],[15.92,1.644],[15.938,1.648],[15.963,1.641],[15.978,1.637],[15.994,1.648],[16.009,1.744],[16.025,1.641],[16.043,1.639],[16.062,1.627],[16.08,1.623],[16.105,1.613],[16.124,1.589],[16.14,1.629],[16.157,1.589],[16.176,1.639],[16.192,1.618],[16.217,1.613],[16.241,1.587],[16.26,1.618],[16.278,1.623],[16.309,1.627],[16.328,1.658],[16.349,1.658],[16.365,1.639],[16.387,1.608],[16.402,1.599],[16.421,1.606],[16.439,1.623],[16.458,1.65],[16.473,1.629],[16.491,1.65],[16.507,1.634],[16.526,1.631],[16.557,1.65],[16.575,1.618],[16.594,1.634],[16.612,1.629],[16.637,1.627],[16.659,1.671],[16.673,1.683],[16.687,1.713],[16.706,1.655],[16.72,1.644],[16.739,1.623],[16.758,1.618],[16.777,1.61],[16.794,1.597],[16.806,1.631],[16.82,1.627],[16.839,1.597],[16.855,1.571],[16.874,1.555],[16.891,1.602],[16.91,1.607],[16.924,1.623],[16.941,1.578],[16.957,1.641],[16.972,1.613],[16.993,1.597],[17.008,2.352],[17.024,2.279],[17.043,2.2],[17.066,1.996],[17.09,1.807],[17.109,1.739],[17.137,1.671],[17.171,1.602],[17.192,1.602],[17.209,1.744],[17.225,1.928],[17.242,2.008],[17.256,1.975],[17.275,1.933],[17.294,1.844],[17.308,1.807],[17.325,1.718],[17.346,1.65],[17.365,1.608],[17.384,1.587],[17.403,1.571],[17.431,1.534],[17.455,1.511],[17.474,1.518],[17.493,1.571],[17.509,1.498],[17.531,1.482],[17.55,1.484],[17.573,1.498],[17.592,1.566],[17.609,1.547],[17.626,1.557],[17.645,1.534],[17.668,1.522],[17.692,1.49],[17.725,1.48],[17.744,1.492],[17.773,1.482],[17.791,1.477],[17.81,1.445],[17.829,1.463],[17.848,1.456],[17.867,1.473],[17.891,1.48],[17.91,1.48],[17.926,1.618],[17.945,1.515],[17.972,1.511],[18.0,1.513]];

// Panel 4: log10 LWP
const lwpC2 = [[15.0,2.0],[15.015,2.2],[15.03,2.26],[15.045,2.27],[15.06,2.2],[15.07,2.16],[15.083,1.86],[15.095,2.35],[15.105,2.4],[15.12,1.85],[15.13,2.2],[15.14,2.4],[15.15,2.2],[15.165,2.24],[15.175,2.0],[15.19,2.5],[15.205,2.45],[15.22,2.27],[15.235,2.35],[15.25,2.3],[15.26,2.2],[15.275,2.15],[15.29,2.15],[15.3,2.05],[15.32,1.6],[15.335,1.5],[15.35,1.55],[15.365,1.5],[15.38,1.45],[15.39,1.35],[15.41,2.25],[15.42,2.3],[15.44,2.45],[15.45,2.38],[15.46,2.45],[15.48,2.38],[15.5,2.4],[15.515,2.3],[15.53,2.1],[15.545,2.15],[15.56,2.1],[15.575,2.3],[15.59,2.35],[15.605,2.33],[15.62,2.2],[15.64,2.15],[15.66,2.18],[15.675,1.99],[15.69,2.18],[15.71,2.05],[15.73,1.7],[15.745,1.35],[15.76,1.95],[15.77,2.05],[15.775,1.65],[15.79,2.1],[15.81,2.35],[15.825,2.3],[15.84,2.32],[15.86,2.45],[15.875,2.52],[15.89,2.52],[15.905,2.35],[15.92,2.38],[15.935,2.26],[15.95,2.38],[15.965,2.3],[15.98,2.2],[15.995,2.4],[16.01,2.4],[16.025,2.37],[16.035,2.25],[16.05,2.38],[16.065,2.25],[16.08,2.05],[16.09,1.92],[16.1,2.3],[16.11,2.25],[16.12,1.88],[16.135,2.22],[16.15,2.05],[16.16,2.15],[16.175,2.45],[16.19,2.25],[16.2,1.5],[16.215,1.55],[16.225,1.4],[16.24,1.55],[16.255,2.4],[16.27,2.35],[16.28,2.45],[16.3,2.5],[16.315,2.52],[16.33,2.53],[16.345,2.55],[16.36,2.35],[16.375,1.7],[16.39,1.35],[16.405,1.4],[16.415,1.65],[16.425,1.85],[16.44,2.1],[16.455,1.9],[16.47,1.65],[16.485,1.55],[16.5,1.72],[16.515,1.7],[16.53,1.85],[16.545,1.95],[16.56,2.05],[16.575,2.1],[16.59,2.25],[16.6,1.9],[16.615,1.55],[16.63,1.35],[16.645,2.0],[16.655,2.36],[16.67,2.45],[16.68,2.45],[16.69,2.3],[16.7,2.45],[16.71,2.5],[16.72,2.35],[16.73,2.3],[16.74,2.05],[16.745,1.78],[16.76,2.0],[16.77,2.0],[16.78,2.1],[16.8,2.05],[16.82,2.06],[16.84,1.85],[16.858,1.4],[16.875,2.0],[16.89,2.35],[16.905,2.36],[16.915,2.45],[16.93,2.6],[16.945,2.5],[16.955,2.3],[16.965,2.5],[16.975,2.75],[16.99,3.1],[17.0,3.35],[17.01,3.1],[17.02,2.95],[17.035,2.85],[17.05,2.75],[17.065,2.5],[17.08,2.4],[17.095,2.19],[17.11,2.1],[17.13,2.05],[17.15,1.98],[17.165,2.05],[17.18,2.3],[17.19,2.5],[17.2,2.75],[17.21,3.1],[17.22,3.1],[17.235,3.08],[17.245,3.05],[17.255,3.0],[17.265,2.85],[17.28,2.75],[17.3,2.7],[17.32,2.65],[17.33,2.58],[17.345,2.5],[17.36,2.45],[17.37,2.42],[17.385,2.3],[17.4,2.25],[17.42,2.22],[17.44,2.2],[17.46,2.15],[17.47,2.18],[17.48,2.55],[17.49,2.6],[17.5,2.0],[17.51,1.92],[17.52,1.95],[17.53,2.05],[17.54,1.95],[17.55,2.1],[17.56,2.05],[17.57,2.15],[17.58,2.1],[17.59,2.0],[17.6,2.6],[17.61,2.4],[17.62,2.3],[17.63,2.65],[17.64,2.4],[17.65,2.45],[17.655,2.0],[17.665,2.5],[17.675,2.55],[17.69,2.55],[17.7,2.55],[17.71,2.45],[17.72,2.3],[17.73,2.15],[17.74,2.05],[17.755,2.05],[17.77,2.06],[17.775,2.15],[17.785,2.05],[17.795,1.95],[17.8,2.25],[17.81,2.0],[17.82,1.85],[17.84,1.82],[17.86,1.8],[17.87,1.82],[17.88,1.88],[17.89,2.0],[17.9,2.0],[17.915,2.3],[17.93,2.55],[17.945,2.45],[17.955,2.2],[17.965,1.75],[17.975,1.6],[17.985,1.55],[17.99,1.6],[18.0,1.5]];
const lwpC3 = [[15.0,2.2],[15.01,1.85],[15.03,2.3],[15.05,2.25],[15.07,2.1],[15.085,2.0],[15.1,2.4],[15.11,2.35],[15.125,1.66],[15.135,2.3],[15.145,2.5],[15.16,2.3],[15.175,1.93],[15.19,2.6],[15.2,2.5],[15.215,2.25],[15.23,2.45],[15.25,2.3],[15.265,2.15],[15.28,2.2],[15.295,2.1],[15.31,1.9],[15.325,1.4],[15.34,1.75],[15.35,1.5],[15.36,1.95],[15.375,1.35],[15.385,1.2],[15.4,1.6],[15.415,2.2],[15.43,2.4],[15.445,2.55],[15.46,2.4],[15.48,2.55],[15.5,2.35],[15.515,2.25],[15.53,2.1],[15.55,2.15],[15.565,2.3],[15.58,2.4],[15.6,2.35],[15.615,2.25],[15.63,2.15],[15.645,2.3],[15.66,2.1],[15.675,2.25],[15.69,2.15],[15.7,2.2],[15.715,2.05],[15.73,1.6],[15.745,1.5],[15.76,1.8],[15.775,2.1],[15.79,2.15],[15.8,2.0],[15.815,2.35],[15.83,2.45],[15.85,2.35],[15.865,2.5],[15.88,2.6],[15.895,2.45],[15.91,2.4],[15.925,2.35],[15.94,2.4],[15.955,2.3],[15.97,2.25],[15.985,2.05],[16.0,2.4],[16.015,2.45],[16.03,2.35],[16.045,2.4],[16.06,2.3],[16.075,2.15],[16.09,1.95],[16.1,2.25],[16.115,2.15],[16.13,1.9],[16.145,2.3],[16.16,1.8],[16.175,2.45],[16.19,2.3],[16.2,1.9],[16.21,1.5],[16.22,1.7],[16.235,1.45],[16.25,1.9],[16.26,2.4],[16.28,2.4],[16.3,2.5],[16.32,2.55],[16.34,2.58],[16.36,2.4],[16.375,1.6],[16.39,1.3],[16.405,1.4],[16.42,1.7],[16.44,2.2],[16.455,1.9],[16.465,1.6],[16.48,1.75],[16.5,1.55],[16.515,1.85],[16.53,1.7],[16.545,1.9],[16.56,2.05],[16.575,2.2],[16.59,1.95],[16.6,1.85],[16.615,1.4],[16.63,1.3],[16.645,1.6],[16.66,2.35],[16.68,2.5],[16.7,2.55],[16.71,2.45],[16.72,2.5],[16.73,2.3],[16.745,1.7],[16.76,1.85],[16.77,1.8],[16.78,2.05],[16.79,2.1],[16.8,2.05],[16.81,2.15],[16.82,2.05],[16.83,2.2],[16.84,1.7],[16.86,1.5],[16.875,1.9],[16.89,2.3],[16.91,2.4],[16.93,2.6],[16.945,2.35],[16.955,2.25],[16.97,2.6],[16.985,3.0],[17.0,3.1],[17.01,3.05],[17.03,2.85],[17.05,2.75],[17.07,2.55],[17.09,2.35],[17.11,2.2],[17.13,2.0],[17.15,1.85],[17.17,2.2],[17.19,2.6],[17.21,2.9],[17.23,2.85],[17.25,2.75],[17.27,2.55],[17.29,2.35],[17.31,2.15],[17.33,2.0],[17.35,1.9],[17.36,2.05],[17.37,1.85],[17.39,1.75],[17.41,1.45],[17.43,1.43],[17.45,1.45],[17.47,1.4],[17.48,2.3],[17.49,2.65],[17.5,1.85],[17.51,1.55],[17.52,1.65],[17.535,1.8],[17.55,1.6],[17.56,1.85],[17.57,1.75],[17.58,1.9],[17.59,1.75],[17.6,2.2],[17.61,2.0],[17.62,2.4],[17.63,1.7],[17.64,2.55],[17.65,1.9],[17.66,2.3],[17.67,2.5],[17.68,2.65],[17.69,2.5],[17.7,2.55],[17.71,2.3],[17.72,1.9],[17.735,1.65],[17.75,1.6],[17.76,1.75],[17.77,1.6],[17.78,1.55],[17.79,1.7],[17.8,1.5],[17.82,1.35],[17.84,1.35],[17.86,1.4],[17.88,1.6],[17.9,2.0],[17.915,2.3],[17.93,2.5],[17.945,2.3],[17.96,1.7],[17.975,1.6],[17.99,1.55],[18.0,1.5]];
// [hour, log10 LWP, uncertainty below, uncertainty above]  (-1 = zero LWP, below the axis)
const lwpPhy = [[15.0,2.216,.05,.05],[15.01,2.085,.05,.05],[15.028,2.275,.04,.04],[15.043,2.348,.03,.03],[15.059,2.26,.03,.03],[15.075,2.129,.04,.04],[15.093,2.333,.03,.03],[15.109,2.421,.03,.03],[15.125,2.129,.04,.04],[15.142,2.444,.03,.03],[15.158,2.289,.03,.03],[15.175,2.275,.03,.03],[15.192,2.591,.03,.03],[15.212,2.421,.03,.03],[15.229,2.348,.03,.03],[15.245,2.26,.03,.03],[15.257,2.164,.04,.03],[15.274,2.187,.04,.03],[15.291,2.158,.05,.04],[15.307,1.675,.12,.08],[15.325,1.485,.2,.1],[15.344,1.287,.25,.1],[15.36,1.588,.25,.1],[15.377,1.251,.3,.1],[15.39,1.339,.25,.1],[15.412,2.26,.05,.05],[15.427,2.392,.03,.03],[15.443,2.509,.03,.03],[15.459,2.444,.03,.03],[15.48,2.444,.03,.03],[15.496,2.436,.03,.03],[15.511,2.26,.04,.03],[15.536,2.129,.05,.04],[15.554,2.26,.03,.03],[15.571,2.348,.03,.03],[15.588,2.398,.03,.03],[15.604,2.348,.03,.03],[15.623,2.246,.03,.03],[15.641,2.181,.03,.03],[15.66,2.158,.03,.03],[15.678,2.164,.03,.03],[15.694,2.164,.03,.03],[15.712,2.07,.05,.04],[15.728,1.69,.12,.08],[15.743,1.193,.3,.1],[15.759,1.865,.1,.06],[15.771,1.968,.06,.05],[15.79,2.143,.04,.04],[15.808,2.392,.03,.03],[15.827,2.392,.03,.03],[15.845,2.485,.03,.03],[15.864,2.523,.03,.03],[15.876,2.591,.03,.03],[15.892,2.456,.03,.03],[15.907,2.421,.03,.03],[15.926,2.406,.03,.03],[15.942,2.436,.03,.03],[15.959,2.275,.03,.03],[15.975,2.202,.04,.03],[15.994,2.392,.03,.03],[16.012,2.357,.03,.03],[16.031,2.363,.03,.03],[16.043,2.392,.03,.03],[16.058,2.26,.03,.03],[16.074,2.105,.04,.04],[16.093,2.143,.04,.04],[16.111,2.275,.03,.03],[16.124,2.164,.04,.03],[16.142,2.181,.04,.03],[16.157,2.129,.04,.03],[16.177,2.436,.03,.03],[16.192,2.275,.04,.03],[16.21,1.485,.15,.08],[16.226,1.333,.2,.1],[16.244,1.602,.12,.06],[16.26,2.436,.03,.03],[16.278,2.456,.03,.03],[16.297,2.538,.03,.03],[16.316,2.573,.03,.03],[16.34,2.591,.03,.03],[16.359,2.377,.05,.04],[16.375,1.661,.2,.1],[16.392,-1,0,0],[16.408,1.076,.6,.2],[16.424,1.807,.12,.06],[16.442,2.085,.05,.05],[16.458,1.836,.08,.05],[16.474,1.573,.1,.06],[16.491,1.544,.15,.06],[16.507,1.705,.08,.05],[16.526,1.661,.06,.05],[16.545,1.895,.05,.05],[16.563,2.056,.04,.04],[16.578,2.041,.04,.04],[16.594,2.246,.04,.04],[16.61,1.778,.3,.1],[16.627,-1,0,0],[16.637,1.807,.3,.1],[16.649,2.304,.05,.05],[16.664,2.465,.03,.03],[16.678,2.509,.03,.03],[16.692,2.45,.03,.03],[16.706,2.494,.03,.03],[16.723,2.246,.05,.04],[16.741,1.412,.25,.1],[16.758,1.836,.08,.05],[16.775,1.836,.05,.04],[16.791,2.026,.04,.04],[16.81,2.041,.04,.04],[16.825,2.026,.04,.04],[16.842,1.442,.3,.1],[16.858,0.877,1.5,.3],[16.874,1.924,.1,.05],[16.891,2.363,.04,.04],[16.91,2.48,.03,.03],[16.927,2.596,.03,.03],[16.941,2.64,.03,.03],[16.959,2.465,.03,.03],[16.976,2.757,.03,.03],[16.991,3.006,.03,.03],[17.007,3.181,.03,.03],[17.024,2.977,.03,.03],[17.043,2.787,.03,.03],[17.076,2.48,.04,.04],[17.104,2.099,.06,.05],[17.137,1.749,.08,.06],[17.156,1.427,.15,.08],[17.173,1.924,.06,.05],[17.19,2.392,.04,.04],[17.209,2.918,.03,.03],[17.225,2.924,.03,.03],[17.242,2.918,.03,.03],[17.259,2.699,.03,.03],[17.289,2.45,.04,.04],[17.306,2.246,.04,.04],[17.327,2.114,.05,.05],[17.341,1.822,.08,.06],[17.357,1.88,.08,.06],[17.374,1.734,.1,.08],[17.391,1.427,.2,.25],[17.408,0.93,1.5,.7],[17.427,0.857,1.5,.8],[17.441,0.608,1.5,1.0],[17.46,1.018,1.5,.6],[17.474,2.07,.1,.05],[17.49,2.626,.03,.03],[17.507,1.515,.3,.1],[17.526,1.281,.6,.2],[17.543,1.295,1.4,.15],[17.559,1.851,.1,.05],[17.575,1.865,.05,.05],[17.592,2.07,.04,.04],[17.609,2.202,.04,.04],[17.626,2.377,.03,.03],[17.645,2.246,.04,.04],[17.659,2.246,.04,.04],[17.673,2.553,.03,.03],[17.692,2.567,.03,.03],[17.706,2.333,.05,.05],[17.727,1.31,.6,.35],[17.744,0.76,1.5,.9],[17.76,1.339,1.5,.4],[17.777,0.857,1.5,.8],[17.793,1.588,1.2,.1],[17.81,-1,0,0],[17.834,null,null,null],[17.858,0.228,.5,.3],[17.877,1.281,.4,.1],[17.896,1.836,.1,.05],[17.913,2.143,.05,.05],[17.926,2.532,.04,.04],[17.943,1.588,.1,.1],[17.962,1.515,.3,.1],[17.976,0.813,1.5,.8],[17.993,0.711,1.5,.9],[18.01,1.061,1.5,.6]];
// [hour, log10 adiabatic LWP, uncertainty half-width]
const lwpAdia = [[15.0,2.333,.1],[15.028,2.339,.1],[15.043,2.304,.08],[15.059,2.392,.07],[15.075,2.173,.07],[15.093,2.421,.07],[15.109,2.632,.07],[15.125,2.246,.07],[15.142,2.626,.07],[15.158,2.64,.07],[15.175,2.787,.07],[15.192,2.795,.07],[15.212,2.67,.07],[15.226,2.523,.07],[15.245,2.48,.07],[15.261,1.822,.07],[15.276,2.187,.07],[15.291,2.158,.07],[15.307,2.041,.1],[15.325,1.705,.1],[15.34,1.836,.12],[15.36,1.865,.12],[15.377,1.822,.12],[15.39,1.149,.15],[15.412,2.45,.08],[15.427,2.582,.07],[15.443,2.538,.07],[15.462,2.377,.07],[15.476,2.602,.07],[15.496,2.406,.07],[15.514,2.173,.1],[15.536,2.114,.1],[15.554,2.26,.08],[15.571,2.357,.07],[15.592,2.48,.07],[15.608,2.333,.07],[15.625,2.319,.07],[15.641,2.436,.07],[15.66,2.333,.07],[15.678,2.444,.07],[15.697,2.246,.07],[15.715,1.997,.07],[15.728,1.836,.07],[15.743,1.705,.07],[15.759,1.909,.07],[15.777,2.143,.07],[15.793,2.377,.07],[15.811,2.567,.07],[15.827,2.494,.07],[15.845,2.553,.07],[15.86,2.655,.07],[15.876,2.69,.07],[15.895,2.611,.07],[15.91,2.406,.07],[15.926,2.406,.07],[15.942,2.567,.07],[15.957,2.632,.07],[15.975,2.632,.07],[15.994,2.377,.07],[16.009,2.567,.07],[16.025,2.427,.07],[16.041,2.509,.07],[16.056,2.456,.07],[16.074,2.289,.07],[16.09,2.31,.07],[16.108,2.45,.07],[16.124,2.348,.07],[16.142,2.509,.07],[16.157,2.246,.07],[16.176,2.494,.07],[16.192,2.544,.07],[16.207,2.012,.07],[16.225,2.377,.07],[16.241,1.801,.07],[16.26,2.655,.07],[16.278,2.582,.07],[16.297,2.596,.07],[16.316,2.591,.07],[16.34,2.62,.07],[16.359,2.392,.08],[16.375,2.099,.1],[16.392,1.851,.12],[16.408,1.918,.12],[16.427,2.187,.1],[16.446,2.246,.1],[16.458,2.281,.1],[16.476,1.982,.12],[16.491,1.968,.12],[16.507,1.754,.12],[16.526,1.792,.12],[16.541,1.807,.12],[16.561,2.076,.1],[16.575,2.085,.08],[16.592,2.31,.07],[16.61,2.041,.1],[16.627,1.427,.12],[16.644,2.158,.08],[16.662,2.509,.07],[16.677,2.757,.07],[16.69,2.436,.07],[16.709,2.626,.07],[16.725,2.333,.07],[16.741,2.48,.07],[16.756,2.07,.07],[16.774,2.596,.07],[16.791,2.231,.07],[16.81,2.056,.08],[16.825,2.012,.08],[16.842,1.807,.08],[16.858,1.345,.08],[16.874,1.953,.07],[16.891,2.421,.07],[16.908,2.626,.07],[16.927,2.626,.07],[16.943,2.713,.07],[16.957,2.67,.07],[16.976,3.006,.07],[16.991,3.035,.07],[17.007,3.094,.07],[17.043,2.626,.07],[17.06,2.699,.07],[17.073,2.041,.1],[17.092,1.383,.15],[17.111,1.491,.2],[17.128,1.47,.25],[17.142,1.339,.3],[17.158,1.266,.25],[17.175,1.69,.1],[17.192,2.728,.07],[17.209,2.962,.07],[17.225,2.743,.07],[17.242,2.582,.07],[17.259,2.363,.07],[17.275,2.158,.07],[17.292,1.515,.1],[17.31,2.012,.1],[17.327,2.114,.1],[17.343,1.807,.12],[17.36,1.836,.15],[17.374,1.734,.2],[17.391,1.412,.25],[17.408,1.412,.25],[17.427,1.149,.25],[17.443,2.26,.1],[17.46,2.289,.1],[17.474,2.567,.07],[17.49,2.787,.07],[17.509,1.675,.1],[17.526,2.743,.1],[17.543,1.807,.15],[17.559,1.602,.2],[17.576,1.266,.25],[17.592,2.728,.07],[17.609,2.64,.07],[17.626,2.713,.07],[17.642,2.684,.07],[17.659,2.494,.07],[17.676,2.854,.07],[17.692,2.567,.07],[17.711,2.231,.07],[17.725,1.749,.07],[17.742,1.427,.07],[17.76,2.275,.1],[17.777,2.281,.1],[17.793,2.085,.1],[17.81,1.178,.07],[17.826,1.17,.07],[17.84,null,null],[17.858,1.164,.07],[17.877,1.982,.1],[17.894,2.07,.1],[17.91,2.728,.08],[17.926,2.816,.08],[17.943,2.45,.1],[17.96,1.749,.15],[17.976,1.632,.2],[17.993,1.427,.25],[18.01,1.149,.3]];

// Panel 5: DQ flag per minute (minute i is centred on 15:00 + i + 0.5 min); arrays = several flags in that minute
const dqFlags = [
  0,0,0,0,0,0,0,0,0,0,
  0,0,0,0,0,0,0,0,0,0,
  0,0,0,4,6,0,0,0,0,0,
  0,0,0,0,0,0,0,0,0,0,
  0,0,0,0,0,0,0,0,0,0,
  0,0,0,0,0,0,0,0,0,0,
  6,0,0,0,0,0,0,0,0,0,
  0,0,0,0,0,0,0,0,0,0,
  0,0,0,0,0,0,0,0,0,0,
  0,0,0,0,0,0,0,0,0,0,
  0,0,[10,11],11,11,0,0,0,0,0,
  0,0,0,0,0,0,[10,11],0,0,[6,9,10,11],
  [10,11],[6,11],[6,11],11,11,11,[3,11],[4,11],11,0,
  0,0,[10,11],[10,11],[6,10,11],11,11,11,11,11,
  11,11,11,11,0,0,3,0,0,0,
  0,0,0,0,0,0,0,0,0,0,
  0,[10,11],11,11,0,0,0,0,4,4,
  5,4,0,0,0,0,0,0,0,0,
  4
];

// Shaded time windows (UTC hours)
const p1Wet = [[15.0,18.009]];
const p3Brown = [[15.167,15.184],[16.151,16.167],[16.633,16.650],[16.700,16.799],[16.866,16.882],[16.933,16.951],[16.966,17.049],[17.082,17.484],[17.500,17.584],[17.601,17.618],[17.651,17.918]];
const p3Tan = [[15.901,15.934],[16.916,16.933],[17.918,17.935]];
const p4Cyan = [[16.700,16.749],[16.933,16.951],[16.984,17.134],[17.100,17.150],[17.201,17.401],[17.684,17.735]];
const p4Gray = [[15.384,15.400],[17.434,17.450],[17.801,17.834],[17.851,17.867],[18.0,18.011]];
const p4Yellow = [[17.834,17.851]];

// Axis ticks
const xTicks = [15, 15.5, 16, 16.5, 17, 17.5, 18];
const y1Ticks = [30,40,50,60,70,80,90,100];
const y2Ticks = [20,30,40,50,60,70,80,90,100,110];
const y3Ticks = [1.4,1.6,1.8,2,2.2,2.4,2.6];
const y4Ticks = [0,0.5,1,1.5,2,2.5,3,3.5];
const y5Ticks = [0,2,4,6,8,10];

// ---------------- CHART ----------------
const BLUE = '#0000FF', LBLUE = '#ADD8E6', ORANGE = '#FF8C00', PURPLE = '#800080', AXB = '#0072BD', DARK = '#262626';
const XMARK = 'path://M0,1.5L1.5,0L5,3.5L8.5,0L10,1.5L6.5,5L10,8.5L8.5,10L5,6.5L1.5,10L0,8.5L3.5,5Z';
const TOPS = [296, 1421, 2546, 3671, 4796];
const H = 907;
const LWP_MIN = -0.1, LWP_MAX = 3.684;

const grid = TOPS.map(t => ({left: 374.5, width: 2629.5, top: t, height: H}));
const xAxis = TOPS.map((_, i) => ({
  type: 'value', gridIndex: i, min: 15, max: 18,
  name: 'UTC hours on 20250529', nameLocation: 'middle', nameGap: 93,
  nameTextStyle: {fontSize: 47, color: DARK},
  axisLine: {show: true, onZero: false, lineStyle: {color: DARK, width: 2}},
  axisTick: {show: true, inside: true, length: 27, customValues: xTicks, lineStyle: {color: DARK, width: 2}},
  axisLabel: {show: true, fontSize: 38, color: DARK, margin: 31, customValues: xTicks},
  splitLine: {show: false}
}));
function yAx(i, min, max, ticks, name, gap) {
  return {type: 'value', gridIndex: i, position: 'left', min, max,
    name, nameLocation: 'middle', nameGap: gap, nameTextStyle: {fontSize: 47, color: AXB},
    axisLine: {show: true, onZero: false, lineStyle: {color: AXB, width: 2}},
    axisTick: {show: true, inside: true, length: 27, customValues: ticks, lineStyle: {color: AXB, width: 2}},
    axisLabel: {show: true, fontSize: 38, color: AXB, margin: 29, customValues: ticks},
    splitLine: {show: false}};
}
const yAxis = [
  yAx(0, 22.6, 103.8, y1Ticks, 'Zenith BT 23 GHz, K', 133),
  yAx(1, 11.4, 119.9, y2Ticks, 'Zenith BT 31 GHz, K', 133),
  yAx(2, 1.285, 2.641, y3Ticks, 'Precip. Water Vapor, mm', 116),
  yAx(3, LWP_MIN, LWP_MAX, y4Ticks, 'log10 Liquid Water Path, log10(g/m\u00B2)', 116),
  yAx(4, -0.5, 11.5, y5Ticks, 'MWR Phy Iter DQ Flag', 106)
].concat(TOPS.map((_, i) => ({type: 'value', gridIndex: i, position: 'right', min: 0, max: 1,
  axisLine: {show: true, onZero: false, lineStyle: {color: AXB, width: 2}},
  axisTick: {show: false}, axisLabel: {show: false}, splitLine: {show: false}})));

function line(i, name, data, color, width, extra) {
  return Object.assign({type: 'line', name, xAxisIndex: i, yAxisIndex: i, data,
    showSymbol: false, symbol: 'none', silent: true, animation: false, z: 3, connectNulls: false,
    lineStyle: {color, width, join: 'round'}, itemStyle: {color}}, extra || {});
}
function overlay(i, bands, color) {
  return {type: 'line', xAxisIndex: i, yAxisIndex: i, data: [], silent: true, z: 10, animation: false, clip: false,
    markArea: {silent: true, z: 10, animation: false, itemStyle: {color, borderWidth: 0}, label: {show: false},
      data: bands.map(b => [{xAxis: b[0]}, {xAxis: b[1]}])}};
}
// uncertainty envelope drawn as polygons through the axis scales; rows: [t, lo, hi]
function envelope(i, rows, color, ymin, ymax) {
  return {type: 'custom', xAxisIndex: i, yAxisIndex: i, data: [[15, 1]], silent: true, z: 1, animation: false,
    encode: {x: 0, y: 1},
    renderItem: function (params, api) {
      const segs = []; let cur = [];
      rows.forEach(r => { if (r[1] == null) { if (cur.length) segs.push(cur); cur = []; } else cur.push(r); });
      if (cur.length) segs.push(cur);
      const cy = v => Math.max(ymin, Math.min(ymax, v));
      const cx = v => Math.max(15, Math.min(18, v));
      const children = segs.filter(s => s.length > 1).map(s => {
        const top = s.map(r => api.coord([cx(r[0]), cy(r[2])]));
        const bot = s.slice().reverse().map(r => api.coord([cx(r[0]), cy(r[1])]));
        return {type: 'polygon', shape: {points: top.concat(bot)}, style: {fill: color}};
      });
      return {type: 'group', children};
    }};
}

const phyEnv = lwpPhy.map(r => [r[0], r[1] == null ? null : r[1] - r[2], r[1] == null ? null : r[1] + r[3]]);
const adiaEnv = lwpAdia.map(r => [r[0], r[1] == null ? null : r[1] - r[2], r[1] == null ? null : r[1] + r[2]]);
const dqPoints = [];
dqFlags.forEach((f, i) => { (Array.isArray(f) ? f : [f]).forEach(v => dqPoints.push([15 + (i + 0.5) / 60, v])); });

const series = [
  // Panel 1
  line(0, 'MWR 2C (tan = wet window)', bt23C2, BLUE, 3.5),
  line(0, 'MWR 3C', bt23C3, LBLUE, 4),
  line(0, 'Phy-Iter', bt23Phy, ORANGE, 8),
  overlay(0, p1Wet, 'rgba(210,180,140,0.5)'),
  // Panel 2
  line(1, 'MWR2C', bt31C2, BLUE, 3.5),
  line(1, 'MWR 3C ', bt31C3, LBLUE, 4.2),
  line(1, 'Phy-Iter ', bt31Phy, ORANGE, 8),
  // Panel 3
  line(2, 'MWR 2C PWV', pwvC2, BLUE, 3.5),
  line(2, 'MWR 3C PWV', pwvC3, LBLUE, 4.5),
  line(2, 'Phy-Iter PWV\n(tan = MWR 2C only)\n(brown = MWR 3C only)', pwvPhy, ORANGE, 8),
  overlay(2, p3Brown, 'rgba(165,42,42,0.5)'),
  overlay(2, p3Tan, 'rgba(210,180,140,0.5)'),
  // Panel 4
  envelope(3, phyEnv, 'rgba(255,140,0,0.2)', LWP_MIN, LWP_MAX),
  envelope(3, adiaEnv, 'rgba(128,0,128,0.2)', LWP_MIN, LWP_MAX),
  line(3, 'MWR 2C LWP', lwpC2, BLUE, 3.5),
  line(3, 'MWR 3C LWP', lwpC3, LBLUE, 4),
  line(3, 'Phy-Iter LWP', lwpPhy.map(r => [r[0], r[1]]), ORANGE, 8, {symbol: XMARK, showSymbol: false}),
  line(3, 'Adiabatic LWP', lwpAdia.map(r => [r[0], r[1]]), PURPLE, 4.5, {symbol: XMARK, showSymbol: false}),
  overlay(3, p4Cyan, 'rgba(0,255,255,0.5)'),
  overlay(3, p4Gray, 'rgba(204,204,204,0.5)'),
  overlay(3, p4Yellow, 'rgba(255,255,0,0.5)'),
  // Panel 5
  {type: 'scatter', xAxisIndex: 4, yAxisIndex: 4, data: dqPoints, symbol: 'circle', symbolSize: 9,
   itemStyle: {color: ORANGE}, silent: true, animation: false, clip: false, z: 3}
];

function leg(left, top, gap, items) {
  return {orient: 'vertical', left, top, itemGap: gap, itemWidth: 235, itemHeight: 30, padding: 0, z: 20,
    selectedMode: false,
    textStyle: {fontSize: 38, color: '#000', lineHeight: 55, padding: [0, 0, 0, 20]},
    data: items.map(it => ({name: it[0], lineStyle: {width: it[1]}, itemStyle: it[2] ? {} : {opacity: 0}}))};
}
const legend = [
  leg(625, 366.5, 3.5, [['MWR 2C (tan = wet window)', 3.5], ['MWR 3C', 4], ['Phy-Iter', 8]]),
  leg(491.6, 1491.5, 3.5, [['MWR2C', 3.5], ['MWR 3C ', 4.2], ['Phy-Iter ', 8]]),
  leg(453.7, 2632.5, 3, [['MWR 2C PWV', 3.5], ['MWR 3C PWV', 4.5], ['Phy-Iter PWV\n(tan = MWR 2C only)\n(brown = MWR 3C only)', 8]]),
  leg(548, 4311, 2.3, [['MWR 2C LWP', 3.5], ['MWR 3C LWP', 4], ['Phy-Iter LWP', 8, true], ['Adiabatic LWP', 4.5, true]])
];

const chart = echarts.init(document.getElementById('c'), null, {renderer: 'canvas', width: 3825, height: 6000});
chart.setOption({
  backgroundColor: '#ffffff',
  animation: false,
  textStyle: {fontFamily: 'DejaVu Sans'},
  grid, xAxis, yAxis, legend, series
});
</script>
</body>
</html>
